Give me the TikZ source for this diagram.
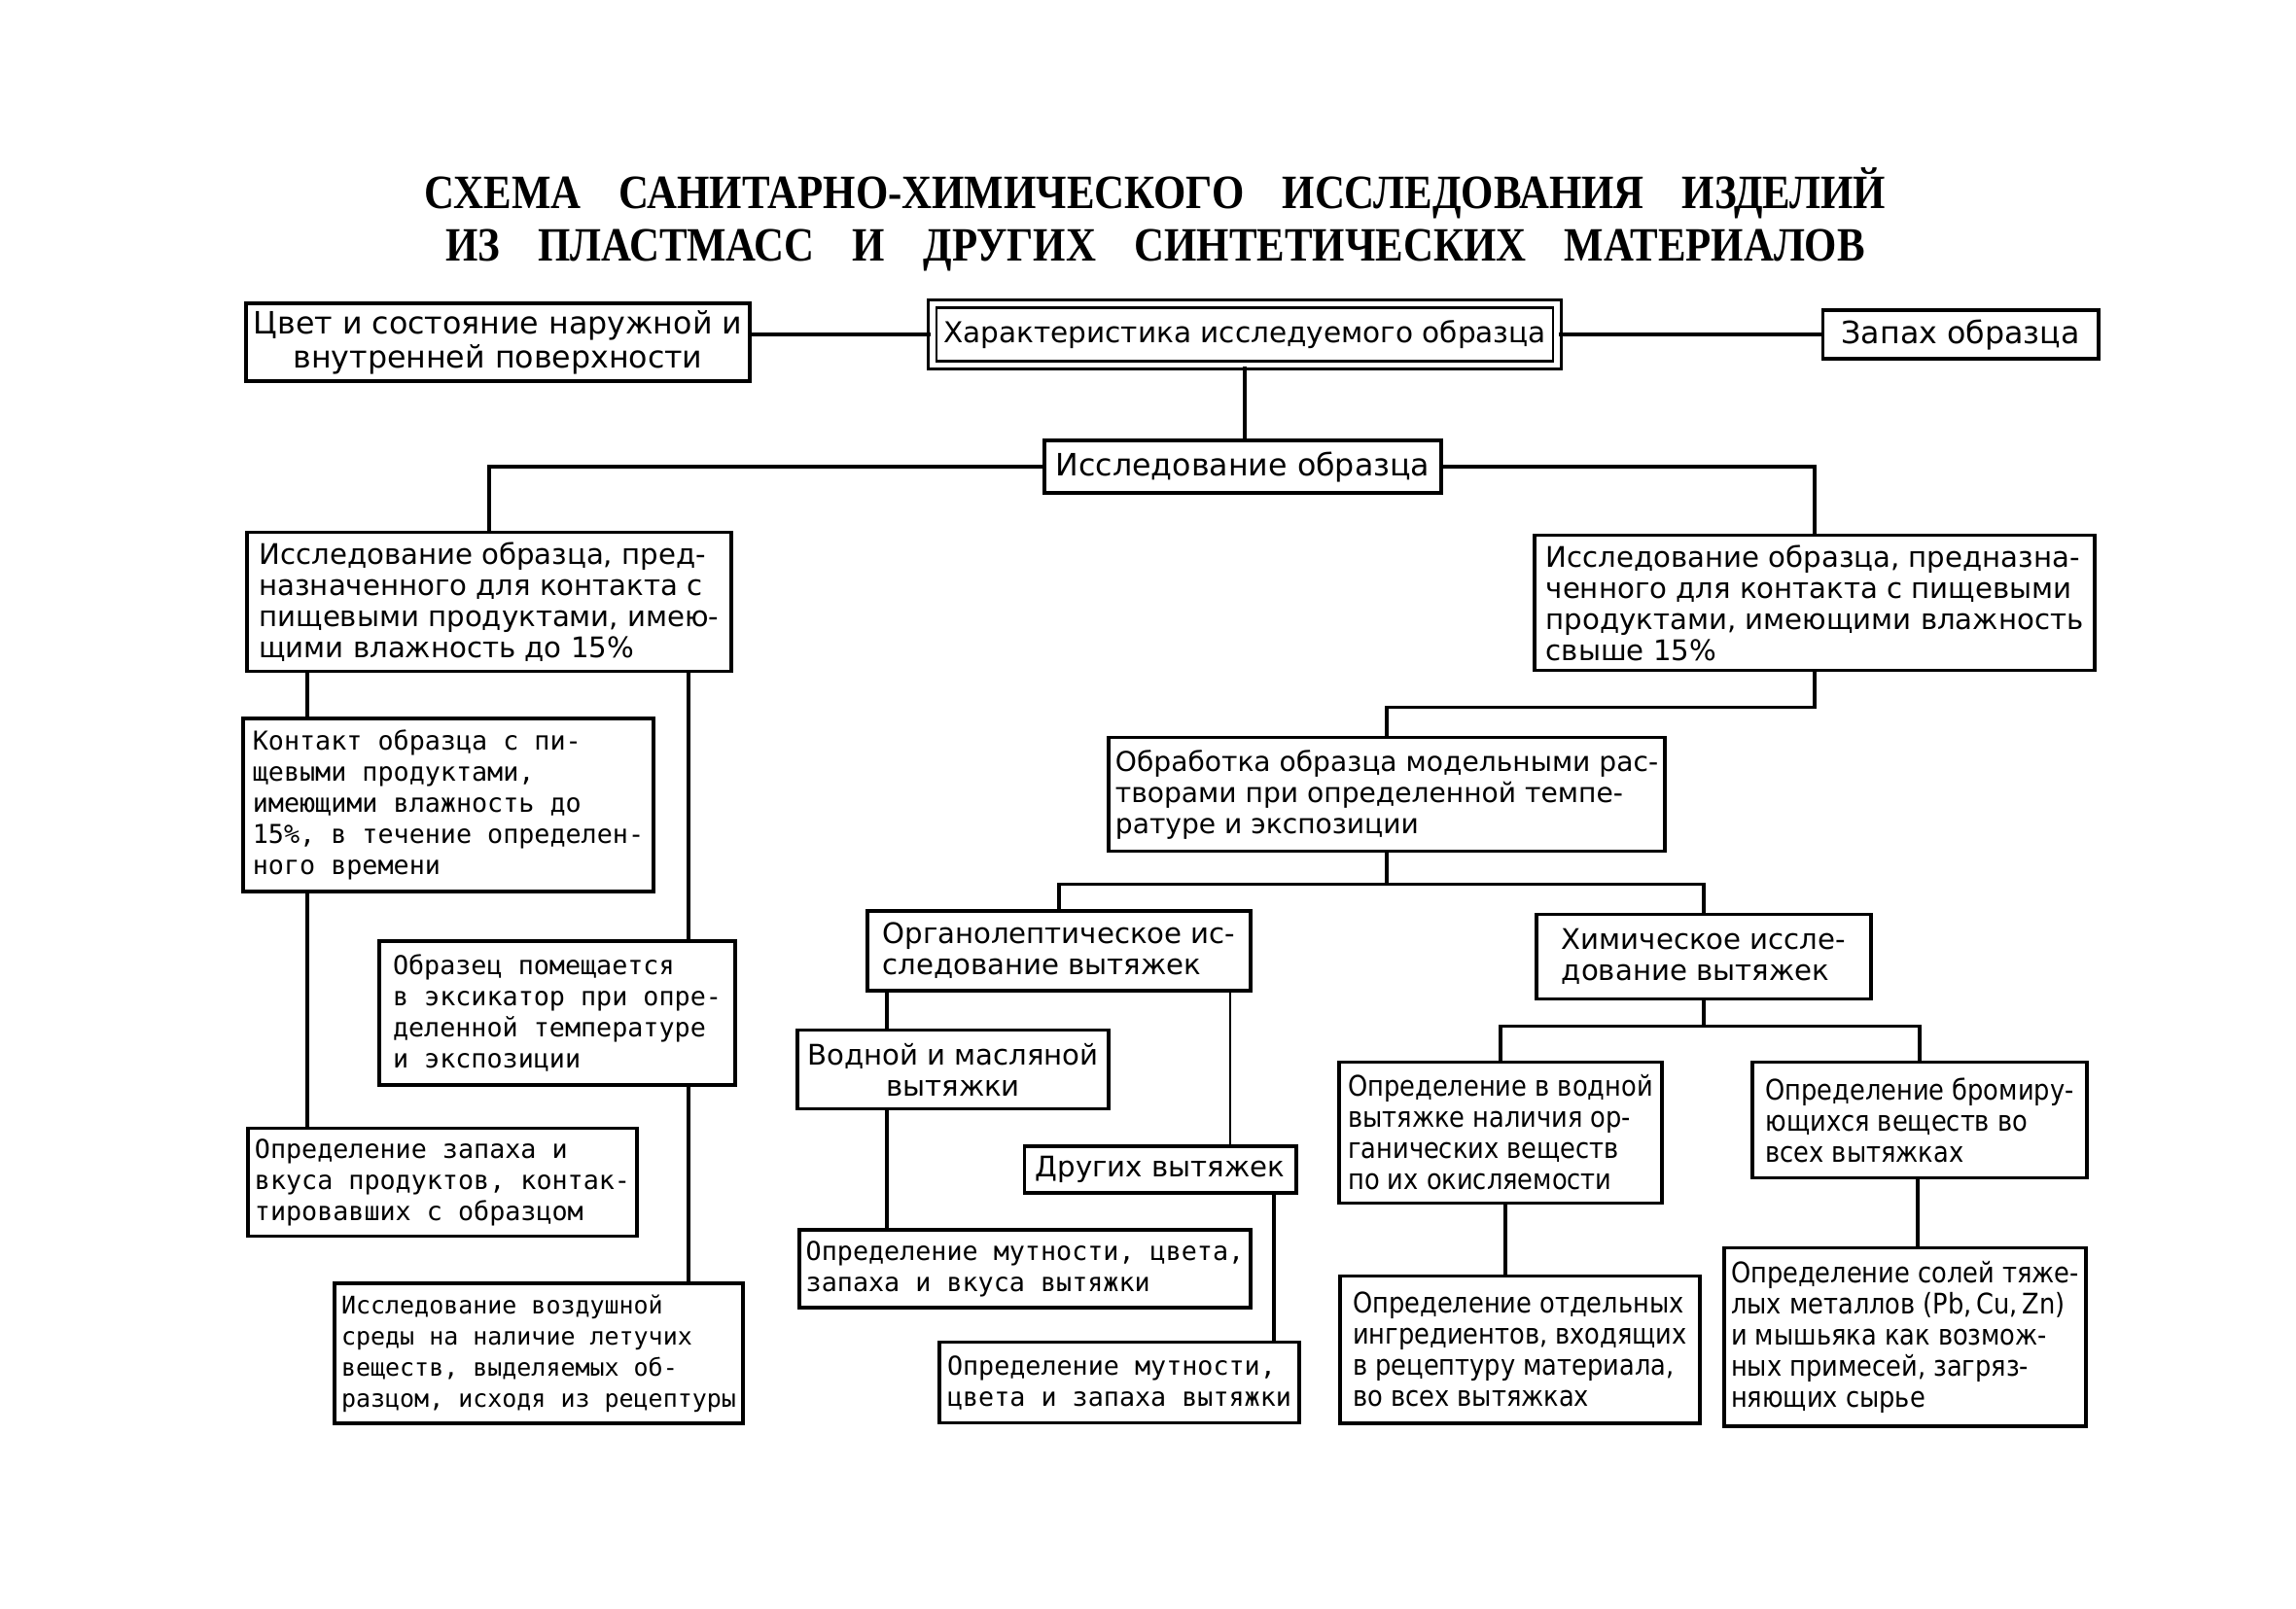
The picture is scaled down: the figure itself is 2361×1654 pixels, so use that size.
\documentclass[tikz,border=0pt]{standalone}
\usepackage{fontspec}
\setmainfont{DejaVu Sans}
\setmonofont{DejaVu Sans Mono}
\newfontfamily\narrowfont[FakeStretch=0.88]{DejaVu Sans}
\newfontfamily\titlefont[FakeStretch=0.87]{Liberation Serif}
\newcommand{\tgap}{\hspace{0.8em}}
\usetikzlibrary{positioning}
\tikzset{%
box/.style={draw, line width=1.1pt, inner sep=2pt, align=left, font=\fontsize{8.3}{9.1}\selectfont},
monobox/.style={box, font=\ttfamily\fontsize{7.6}{9.1}\selectfont},
narrowbox/.style={box, font=\narrowfont\fontsize{8.3}{9.1}\selectfont},
headbox/.style={box, align=center, font=\fontsize{9}{10}\selectfont},
size/.style 2 args={minimum width=#1cm, minimum height=#2cm},
link/.style={draw, line width=1pt},
hair/.style={draw, line width=0.45pt}
}

\begin{document}
\begin{tikzpicture}[x=0.01cm, y=-0.01cm]
\fill[white] (0,0) rectangle (2361,1654);
\useasboundingbox (0,0) rectangle (2361,1654);

% title
\node[font=\titlefont\bfseries\fontsize{14}{15.2}\selectfont, align=center] (title) at (1188,226)
  {СХЕМА\tgap САНИТАРНО-ХИМИЧЕСКОГО\tgap ИССЛЕДОВАНИЯ\tgap ИЗДЕЛИЙ\\
   ИЗ\tgap ПЛАСТМАСС\tgap И\tgap ДРУГИХ\tgap СИНТЕТИЧЕСКИХ\tgap МАТЕРИАЛОВ};

% top row
\node[headbox, size={5.18}{0.79}] (colour) at (512,352) {Цвет и состояние наружной и\\внутренней поверхности};
\node[headbox, size={6.42}{0.63}, double, double distance=1.6pt, line width=0.8pt, font=\fontsize{8.4}{10}\selectfont] (char) at (1280,344) {Характеристика исследуемого образца};
\node[headbox, size={2.83}{0.50}] (smell) at (2016,344) {Запах образца};
\node[headbox, size={4.08}{0.54}] (study) at (1278,480) {Исследование образца};

% two kinds of sample
\node[box, size={4.98}{1.43}] (lowstudy) at (503,619) {Исследование образца, пред-\\назначенного для контакта с\\пищевыми продуктами, имею-\\щими влажность до 15\%};
\node[box, size={5.75}{1.39}] (highstudy) at (1866,620) {Исследование образца, предназна-\\ченного для контакта с пищевыми\\продуктами, имеющими влажность\\свыше 15\%};

% left column
\node[monobox, size={4.21}{1.78}] (contact) at (461,828) {Контакт образца с пи-\\щевыми продуктами,\\имеющими влажность до\\15\%, в течение определен-\\ного времени};
\node[monobox, size={3.66}{1.48}] (exsic) at (573,1042) {Образец помещается\\в эксикатор при опре-\\деленной температуре\\и экспозиции};
\node[monobox, size={3.99}{1.11}] (taste) at (455,1216) {Определение запаха и\\вкуса продуктов, контак-\\тировавших с образцом};
\node[monobox, size={4.10}{1.44}, font=\ttfamily\fontsize{7.1}{9.1}\selectfont] (air) at (554,1392) {Исследование воздушной\\среды на наличие летучих\\веществ, выделяемых об-\\разцом, исходя из рецептуры};

% extracts
\node[box, size={5.72}{1.17}, font=\fontsize{8}{9.1}\selectfont] (treat) at (1426,817) {Обработка образца модельными рас-\\творами при определенной темпе-\\ратуре и экспозиции};
\node[box, size={3.93}{0.82}] (organo) at (1089,978) {Органолептическое ис-\\следование вытяжек};
\node[box, size={3.43}{0.87}] (chem) at (1752,984) {Химическое иссле-\\дование вытяжек};
\node[box, size={3.19}{0.81}, align=center] (wateroil) at (980,1100) {Водной и масляной\\вытяжки};
\node[box, size={2.79}{0.48}] (other) at (1193,1203) {Других вытяжек};
\node[monobox, size={4.59}{0.80}] (turbid) at (1054,1305) {Определение мутности, цвета,\\запаха и вкуса вытяжки};
\node[monobox, size={3.69}{0.83}] (turbidx) at (1151,1422) {Определение мутности,\\цвета и запаха вытяжки};
\node[narrowbox, size={3.31}{1.45}] (oxid) at (1543,1165) {Определение в водной\\вытяжке наличия ор-\\ганических веществ\\по их окисляемости};
\node[narrowbox, size={3.44}{1.19}] (brom) at (1974,1152) {Определение бромиру-\\ющихся веществ во\\всех вытяжках};
\node[narrowbox, size={3.70}{1.51}] (ingred) at (1563,1388) {Определение отдельных\\ингредиентов, входящих\\в рецептуру материала,\\во всех вытяжках};
\node[narrowbox, size={3.64}{1.83}] (metals) at (1959,1375) {Определение солей тяже-\\лых металлов (Pb,\,Cu,\,Zn)\\и мышьяка как возмож-\\ных примесей, загряз-\\няющих сырье};

% connectors
\draw[link] (colour.east |- char.west) -- (char.west);
\draw[link] (char) -- (smell);
\draw[link] (char) -- (char |- study.north);
\draw[link] (study.west) -| (lowstudy.north);
\draw[link] (study.east) -| (highstudy.north);
\draw[link] (highstudy.south) -- ++(0,36) -| (treat.north);
\draw[link] (treat.south) -- ++(0,32) coordinate (tfork);
\draw[link] (organo.north) |- (tfork) -| (chem.north);
\draw[link] (chem.south) -- ++(0,26) coordinate (cfork);
\draw[link] (oxid.north) |- (cfork) -| (brom.north);

% vertical lanes
\coordinate (laneA) at (316,0);
\coordinate (laneB) at (708,0);
\coordinate (laneC) at (912,0);
\coordinate (laneD) at (1310,0);
\coordinate (laneE) at (1548,0);
\coordinate (laneF) at (1972,0);
\coordinate (laneG) at (1265,0);
\foreach \l/\a/\b in {laneA/lowstudy/contact, laneA/contact/taste, laneB/lowstudy/exsic, laneB/exsic/air,
  laneC/organo/wateroil, laneC/wateroil/turbid, laneD/other/turbidx, laneE/oxid/ingred, laneF/brom/metals}
  \draw[link] (\l |- \a.south) -- (\l |- \b.north);
\draw[hair] (laneG |- organo.south) -- (laneG |- other.north);
\end{tikzpicture}
\end{document}
